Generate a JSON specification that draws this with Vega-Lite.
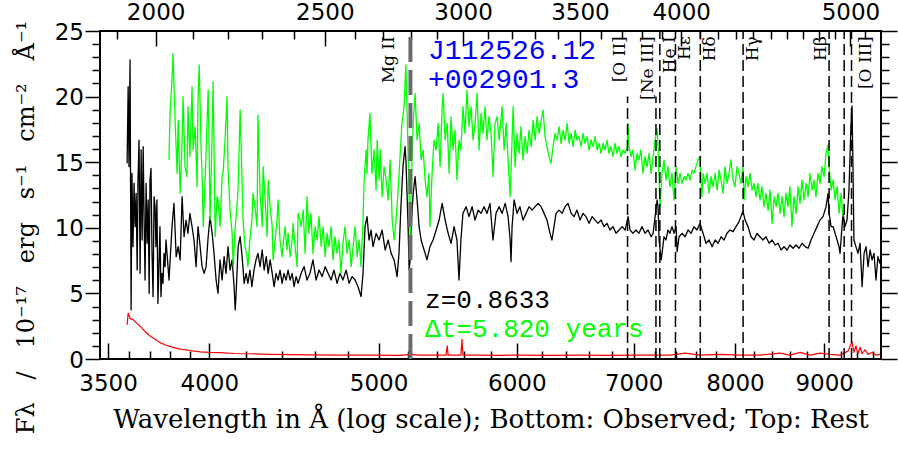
{
  "$schema": "https://vega.github.io/schema/vega-lite/v6.json",
  "width": 781,
  "height": 328,
  "autosize": {"type": "none"},
  "padding": {"left": 100, "top": 31, "right": 17, "bottom": 101},
  "background": "white",
  "config": {
    "view": {"stroke": "black", "strokeWidth": 2},
    "axis": {"grid": false, "domain": false, "tickColor": "black", "tickWidth": 1.5, "labelColor": "black", "labelFont": "DejaVu Sans", "labelFontSize": 23, "labelOverlap": false, "labelFlush": false, "labelBound": false, "titleColor": "black", "titleFontWeight": "normal", "titleFont": "DejaVu Serif", "titleFontSize": 26}
  },
  "datasets": {
    "black": [
      {"w":3589,"f":14.91},{"w":3594,"f":20.75},{"w":3598,"f":14.66},{"w":3603,"f":22.79},{"w":3608,"f":3.74},{"w":3612,"f":14.15},{"w":3617,"f":8.56},{"w":3622,"f":13.39},{"w":3627,"f":10.09},{"w":3632,"f":12.63},{"w":3637,"f":6.78},{"w":3641,"f":13.64},{"w":3646,"f":16.69},{"w":3651,"f":6.53},{"w":3656,"f":15.93},{"w":3661,"f":9.07},{"w":3666,"f":16.18},{"w":3670,"f":11.1},{"w":3675,"f":6.02},{"w":3680,"f":13.39},{"w":3685,"f":8.82},{"w":3690,"f":12.12},{"w":3695,"f":5.01},{"w":3699,"f":13.64},{"w":3704,"f":14.53},{"w":3709,"f":8.05},{"w":3714,"f":4.75},{"w":3719,"f":12.37},{"w":3724,"f":11.61},{"w":3728,"f":8.56},{"w":3733,"f":12.12},{"w":3738,"f":4.24},{"w":3743,"f":7.04},{"w":3748,"f":10.09},{"w":3753,"f":4.75},{"w":3758,"f":6.53},{"w":3763,"f":5.77},{"w":3768,"f":8.05},{"w":3773,"f":7.04},{"w":3778,"f":9.07},
      {"w":3793,"f":6.02},{"w":3808,"f":10.09},{"w":3818,"f":11.86},{"w":3829,"f":7.8},{"w":3839,"f":8.56},{"w":3849,"f":7.55},{"w":3859,"f":12.37},{"w":3869,"f":9.32},{"w":3879,"f":10.59},{"w":3889,"f":9.58},{"w":3899,"f":11.1},{"w":3910,"f":10.09},{"w":3920,"f":9.07},{"w":3931,"f":7.04},{"w":3941,"f":10.09},{"w":3952,"f":8.56},{"w":3962,"f":7.04},{"w":3973,"f":6.53},{"w":3983,"f":7.04},{"w":3994,"f":9.32},{"w":4004,"f":10.85},{"w":4015,"f":9.58},{"w":4025,"f":8.05},{"w":4036,"f":6.02},{"w":4046,"f":5.01},{"w":4057,"f":7.55},{"w":4068,"f":6.02},{"w":4079,"f":7.8},{"w":4089,"f":6.53},{"w":4100,"f":8.56},{"w":4111,"f":6.78},{"w":4122,"f":7.55},{"w":4133,"f":5.51},{"w":4139,"f":3.74},{"w":4144,"f":5.01},{"w":4155,"f":8.56},{"w":4166,"f":9.32},{"w":4177,"f":7.8},{"w":4188,"f":5.77},{"w":4199,"f":6.53},{"w":4209,"f":5.77},{"w":4220,"f":6.78},{"w":4231,"f":5.51},{"w":4243,"f":6.78},{"w":4254,"f":7.55},{"w":4265,"f":8.05},{"w":4277,"f":7.04},{"w":4289,"f":8.31},{"w":4300,"f":6.78},{"w":4312,"f":7.8},{"w":4323,"f":6.53},{"w":4334,"f":7.55},{"w":4346,"f":6.53},{"w":4357,"f":5.51},{"w":4368,"f":6.53},{"w":4380,"f":6.02},{"w":4391,"f":6.78},{"w":4403,"f":5.77},{"w":4414,"f":6.53},{"w":4426,"f":6.02},{"w":4438,"f":6.78},{"w":4450,"f":6.02},{"w":4462,"f":6.53},{"w":4473,"f":5.51},{"w":4485,"f":6.28},{"w":4497,"f":5.77},
      {"w":4515,"f":6.53},{"w":4533,"f":7.04},{"w":4550,"f":6.02},{"w":4568,"f":6.53},{"w":4586,"f":7.55},{"w":4605,"f":6.02},{"w":4623,"f":6.78},{"w":4642,"f":6.28},{"w":4660,"f":7.04},{"w":4678,"f":6.53},{"w":4697,"f":6.02},{"w":4715,"f":6.78},{"w":4734,"f":5.77},{"w":4752,"f":6.53},{"w":4771,"f":6.02},{"w":4791,"f":6.78},{"w":4810,"f":5.77},{"w":4829,"f":6.28},{"w":4848,"f":6.02},{"w":4867,"f":5.51},{"w":4886,"f":4.75},{"w":4899,"f":6.53},{"w":4912,"f":10.09},{"w":4925,"f":10.85},{"w":4938,"f":9.07},{"w":4951,"f":9.83},{"w":4964,"f":8.56},{"w":4984,"f":9.58},{"w":5004,"f":9.07},{"w":5024,"f":9.83},{"w":5044,"f":8.31},{"w":5064,"f":9.07},{"w":5084,"f":8.05},{"w":5104,"f":7.55},{"w":5124,"f":6.28},{"w":5137,"f":8.05},{"w":5150,"f":11.61},{"w":5164,"f":14.66},{"w":5178,"f":16.2},{"w":5184,"f":15.17},{"w":5191,"f":12.88},{"w":5199,"f":10.09},{"w":5206,"f":6.78},{"w":5213,"f":7.55},{"w":5220,"f":10.09},{"w":5234,"f":12.63},{"w":5247,"f":13.9},{"w":5261,"f":12.12},{"w":5275,"f":10.09},{"w":5289,"f":9.07},{"w":5303,"f":8.56},{"w":5317,"f":8.05},{"w":5330,"f":7.55},{"w":5351,"f":8.56},{"w":5373,"f":9.07},{"w":5395,"f":9.83},{"w":5416,"f":10.59},{"w":5438,"f":11.86},{"w":5459,"f":10.59},{"w":5481,"f":9.58},{"w":5502,"f":8.82},{"w":5524,"f":10.09},{"w":5545,"f":9.07},{"w":5560,"f":6.02},{"w":5574,"f":9.07},{"w":5589,"f":11.1},{"w":5612,"f":11.61},{"w":5634,"f":10.85},{"w":5657,"f":11.61},{"w":5679,"f":10.59},{"w":5702,"f":11.35},{"w":5724,"f":11.1},{"w":5747,"f":11.61},{"w":5769,"f":11.1},{"w":5792,"f":11.86},{"w":5815,"f":9.07},{"w":5838,"f":11.1},{"w":5862,"f":11.61},
      {"w":5885,"f":11.1},{"w":5909,"f":11.86},{"w":5932,"f":10.85},{"w":5948,"f":9.07},{"w":5955,"f":7.42},{"w":5963,"f":10.09},{"w":5979,"f":12.12},{"w":6002,"f":11.1},{"w":6025,"f":11.61},{"w":6050,"f":10.59},{"w":6074,"f":11.1},{"w":6098,"f":11.61},{"w":6123,"f":11.35},{"w":6147,"f":11.61},{"w":6171,"f":11.86},{"w":6196,"f":11.61},{"w":6220,"f":11.1},{"w":6244,"f":10.59},{"w":6269,"f":9.58},{"w":6285,"f":9.07},{"w":6302,"f":10.09},{"w":6319,"f":11.1},{"w":6344,"f":11.35},{"w":6370,"f":11.1},{"w":6395,"f":11.61},{"w":6420,"f":11.86},{"w":6446,"f":11.1},{"w":6471,"f":10.85},{"w":6496,"f":11.35},{"w":6522,"f":10.59},{"w":6548,"f":11.1},{"w":6574,"f":10.85},{"w":6600,"f":10.34},{"w":6627,"f":10.85},{"w":6653,"f":10.59},{"w":6679,"f":10.34},{"w":6706,"f":10.59},{"w":6732,"f":10.09},{"w":6758,"f":10.34},{"w":6785,"f":9.83},{"w":6812,"f":10.09},{"w":6839,"f":9.58},{"w":6867,"f":9.83},{"w":6894,"f":10.09},{"w":6922,"f":9.83},{"w":6949,"f":10.85},{"w":6967,"f":9.83},{"w":6994,"f":9.58},{"w":7022,"f":9.83},{"w":7049,"f":9.58},{"w":7078,"f":10.09},{"w":7106,"f":9.58},{"w":7134,"f":9.83},{"w":7163,"f":9.32},{"w":7182,"f":9.58},{"w":7201,"f":10.85},{"w":7220,"f":12.12},{"w":7229,"f":11.61},{"w":7239,"f":9.07},{"w":7258,"f":7.55},{"w":7267,"f":8.05},{"w":7286,"f":9.32},{"w":7305,"f":9.07},{"w":7324,"f":9.83},{"w":7343,"f":9.58},{"w":7363,"f":10.09},{"w":7383,"f":9.58},{"w":7403,"f":10.09},{"w":7413,"f":8.18},{"w":7432,"f":9.32},{"w":7462,"f":9.58},{"w":7492,"f":9.32},{"w":7521,"f":9.83},{"w":7551,"f":9.58},{"w":7580,"f":10.09},{"w":7610,"f":9.83},{"w":7640,"f":10.34},
      {"w":7671,"f":9.58},{"w":7701,"f":8.82},{"w":7732,"f":9.07},{"w":7763,"f":8.56},{"w":7794,"f":9.07},{"w":7825,"f":8.82},{"w":7856,"f":9.32},{"w":7886,"f":9.07},{"w":7917,"f":9.58},{"w":7948,"f":9.83},{"w":7980,"f":9.71},{"w":8012,"f":10.09},{"w":8044,"f":10.47},{"w":8076,"f":11.1},{"w":8087,"f":11.23},{"w":8108,"f":10.59},{"w":8140,"f":10.09},{"w":8172,"f":9.32},{"w":8205,"f":9.07},{"w":8237,"f":9.58},{"w":8269,"f":9.32},{"w":8302,"f":9.07},{"w":8335,"f":9.32},{"w":8369,"f":8.82},{"w":8402,"f":9.07},{"w":8436,"f":8.69},{"w":8469,"f":8.82},{"w":8502,"f":8.31},{"w":8536,"f":8.56},{"w":8569,"f":8.31},{"w":8602,"f":8.69},{"w":8637,"f":8.44},{"w":8672,"f":8.69},{"w":8706,"f":8.44},{"w":8741,"f":8.82},{"w":8776,"f":8.56},{"w":8811,"f":8.44},{"w":8845,"f":9.07},{"w":8880,"f":9.58},{"w":8915,"f":10.09},{"w":8950,"f":10.59},{"w":8986,"f":10.85},{"w":9022,"f":11.61},{"w":9046,"f":12.63},{"w":9058,"f":11.1},{"w":9082,"f":10.09},{"w":9106,"f":10.09},{"w":9130,"f":9.58},{"w":9154,"f":9.07},{"w":9178,"f":8.56},{"w":9190,"f":8.05},{"w":9214,"f":10.09},{"w":9226,"f":11.1},{"w":9250,"f":10.09},{"w":9275,"f":10.59},{"w":9299,"f":12.88},{"w":9323,"f":17.71},{"w":9336,"f":19.3},{"w":9348,"f":14.66},{"w":9360,"f":9.07},{"w":9385,"f":8.56},{"w":9410,"f":8.05},{"w":9436,"f":8.82},{"w":9461,"f":5.51},{"w":9486,"f":8.05},{"w":9511,"f":8.56},{"w":9536,"f":7.04},{"w":9561,"f":8.31},{"w":9586,"f":7.55},{"w":9611,"f":8.05},{"w":9636,"f":6.02},{"w":9661,"f":7.8},{"w":9686,"f":7.29},{"w":9699,"f":7.8}
    ],
    "green": [
      {"w":3793,"f":15.17},{"w":3798,"f":18.72},{"w":3808,"f":21.26},{"w":3813,"f":23.29},{"w":3824,"f":17.96},{"w":3834,"f":14.15},{"w":3839,"f":18.21},{"w":3849,"f":12.63},{"w":3859,"f":16.69},{"w":3864,"f":19.99},{"w":3874,"f":14.66},{"w":3884,"f":13.9},{"w":3889,"f":19.23},{"w":3899,"f":15.42},{"w":3910,"f":20.75},{"w":3915,"f":15.93},{"w":3926,"f":17.71},{"w":3936,"f":13.13},{"w":3941,"f":19.74},{"w":3947,"f":22.41},{"w":3957,"f":15.93},{"w":3962,"f":14.15},{"w":3968,"f":10.09},{"w":3978,"f":13.64},{"w":3989,"f":18.47},{"w":3994,"f":20.5},{"w":3999,"f":15.93},{"w":4004,"f":10.59},{"w":4015,"f":17.2},{"w":4020,"f":21.13},{"w":4025,"f":15.93},{"w":4031,"f":9.32},{"w":4041,"f":12.37},{"w":4046,"f":12.12},{"w":4057,"f":10.09},{"w":4068,"f":13.9},{"w":4073,"f":14.15},{"w":4084,"f":16.69},{"w":4095,"f":19.99},{"w":4100,"f":14.4},{"w":4111,"f":11.36},{"w":4122,"f":9.58},{"w":4128,"f":7.04},{"w":4139,"f":10.09},{"w":4150,"f":11.86},{"w":4155,"f":13.13},{"w":4166,"f":18.98},{"w":4177,"f":13.39},{"w":4182,"f":10.59},{"w":4193,"f":8.56},{"w":4204,"f":7.8},{"w":4209,"f":7.04},{"w":4220,"f":9.07},{"w":4231,"f":10.59},{"w":4237,"f":12.63},{"w":4248,"f":11.61},{"w":4260,"f":10.09},{"w":4265,"f":18.59},{"w":4277,"f":12.63},{"w":4289,"f":10.09},{"w":4294,"f":14.66},{"w":4306,"f":12.12},{"w":4317,"f":9.32},{"w":4323,"f":13.64},{"w":4334,"f":11.61},{"w":4346,"f":10.09},{"w":4351,"f":7.55},{"w":4363,"f":9.07},{"w":4374,"f":10.59},{"w":4380,"f":12.12},{"w":4391,"f":9.07},{"w":4403,"f":7.8},{"w":4408,"f":8.56},{"w":4420,"f":10.09},{"w":4432,"f":8.31},{"w":4438,"f":9.58},{"w":4450,"f":7.8},{"w":4462,"f":9.07},{"w":4467,"f":10.34},{"w":4479,"f":8.56},{"w":4491,"f":7.04},{"w":4497,"f":11.1},{"w":4509,"f":10.59},
      {"w":4515,"f":10.09},{"w":4527,"f":11.35},{"w":4539,"f":8.05},{"w":4550,"f":12.37},{"w":4562,"f":9.58},{"w":4574,"f":11.1},{"w":4586,"f":8.05},{"w":4599,"f":10.09},{"w":4611,"f":9.07},{"w":4623,"f":10.85},{"w":4636,"f":8.56},{"w":4648,"f":10.09},{"w":4660,"f":7.8},{"w":4672,"f":9.58},{"w":4684,"f":8.56},{"w":4697,"f":10.09},{"w":4709,"f":7.55},{"w":4721,"f":9.32},{"w":4734,"f":8.05},{"w":4746,"f":9.07},{"w":4758,"f":6.53},{"w":4771,"f":8.82},{"w":4784,"f":10.09},{"w":4797,"f":8.05},{"w":4810,"f":9.07},{"w":4823,"f":7.04},{"w":4835,"f":8.56},{"w":4848,"f":10.09},{"w":4861,"f":7.8},{"w":4874,"f":9.07},{"w":4886,"f":7.04},{"w":4899,"f":10.59},{"w":4906,"f":13.64},{"w":4919,"f":15.93},{"w":4925,"f":14.15},{"w":4931,"f":16.69},{"w":4944,"f":18.72},{"w":4957,"f":14.15},{"w":4971,"f":15.93},{"w":4984,"f":12.88},{"w":4991,"f":16.69},{"w":5004,"f":13.64},{"w":5011,"f":15.93},{"w":5024,"f":12.37},{"w":5037,"f":14.66},{"w":5051,"f":13.64},{"w":5064,"f":12.12},{"w":5077,"f":15.17},{"w":5091,"f":10.59},{"w":5104,"f":9.07},{"w":5117,"f":10.59},{"w":5131,"f":12.88},{"w":5144,"f":15.42},{"w":5157,"f":17.96},{"w":5171,"f":19.23},{"w":5184,"f":22.41},{"w":5191,"f":19.23},{"w":5199,"f":15.67},{"w":5213,"f":9.07},{"w":5220,"f":12.88},{"w":5234,"f":17.96},{"w":5247,"f":20.25},{"w":5261,"f":16.69},{"w":5275,"f":17.96},{"w":5289,"f":15.17},{"w":5303,"f":15.93},{"w":5317,"f":13.64},{"w":5330,"f":12.37},{"w":5344,"f":14.15},{"w":5351,"f":10.09},{"w":5366,"f":14.15},{"w":5380,"f":16.69},{"w":5395,"f":15.93},{"w":5409,"f":17.96},{"w":5423,"f":14.66},{"w":5438,"f":19.23},{"w":5445,"f":20.25},{"w":5459,"f":16.69},{"w":5474,"f":17.96},{"w":5488,"f":14.15},{"w":5502,"f":18.47},{"w":5517,"f":15.93},{"w":5531,"f":17.45},{"w":5545,"f":13.64},{"w":5560,"f":16.69},{"w":5574,"f":15.93},{"w":5589,"f":19.23},{"w":5604,"f":17.2},{"w":5619,"f":20.5},{"w":5634,"f":17.71},{"w":5649,"f":19.23},{"w":5664,"f":16.69},{"w":5679,"f":17.96},{"w":5694,"f":20.25},{"w":5709,"f":15.93},{"w":5724,"f":18.72},{"w":5739,"f":17.2},{"w":5754,"f":19.23},{"w":5769,"f":16.69},{"w":5784,"f":18.47},{"w":5800,"f":17.2},{"w":5815,"f":13.9},{"w":5830,"f":17.96},{"w":5846,"f":18.47},{"w":5862,"f":16.69},
      {"w":5885,"f":19.23},{"w":5901,"f":15.93},{"w":5917,"f":17.96},{"w":5932,"f":15.17},{"w":5948,"f":12.37},{"w":5963,"f":16.69},{"w":5971,"f":19.23},{"w":5987,"f":14.66},{"w":6002,"f":17.2},{"w":6018,"f":15.67},{"w":6034,"f":17.71},{"w":6050,"f":15.17},{"w":6066,"f":16.95},{"w":6082,"f":15.67},{"w":6098,"f":17.45},{"w":6115,"f":16.18},{"w":6131,"f":18.21},{"w":6147,"f":16.69},{"w":6163,"f":18.47},{"w":6180,"f":17.2},{"w":6196,"f":18.21},{"w":6212,"f":18.98},{"w":6228,"f":16.95},{"w":6244,"f":16.18},{"w":6261,"f":15.42},{"w":6277,"f":14.91},{"w":6294,"f":16.18},{"w":6311,"f":17.2},{"w":6327,"f":16.69},{"w":6344,"f":17.71},{"w":6361,"f":16.44},{"w":6378,"f":17.45},{"w":6395,"f":16.69},{"w":6412,"f":17.96},{"w":6429,"f":16.44},{"w":6446,"f":17.2},{"w":6463,"f":16.18},{"w":6480,"f":17.45},{"w":6496,"f":16.69},{"w":6513,"f":16.95},{"w":6531,"f":16.18},{"w":6548,"f":17.2},{"w":6565,"f":16.44},{"w":6583,"f":16.95},{"w":6600,"f":15.93},{"w":6618,"f":16.69},{"w":6636,"f":16.18},{"w":6653,"f":16.95},{"w":6671,"f":15.93},{"w":6688,"f":16.44},{"w":6706,"f":15.67},{"w":6723,"f":16.44},{"w":6741,"f":15.93},{"w":6758,"f":16.69},{"w":6776,"f":15.67},{"w":6794,"f":16.18},{"w":6812,"f":15.42},{"w":6830,"f":16.44},{"w":6849,"f":15.67},{"w":6867,"f":16.18},{"w":6885,"f":15.42},{"w":6903,"f":15.93},{"w":6922,"f":15.67},{"w":6940,"f":16.18},{"w":6949,"f":17.96},{"w":6958,"f":16.18},{"w":6976,"f":15.42},{"w":6994,"f":15.93},{"w":7013,"f":14.4},{"w":7031,"f":15.67},{"w":7049,"f":15.17},{"w":7068,"f":15.93},{"w":7087,"f":14.15},{"w":7106,"f":15.42},{"w":7125,"f":14.66},{"w":7144,"f":15.67},{"w":7163,"f":14.15},{"w":7182,"f":15.42},{"w":7201,"f":16.69},{"w":7220,"f":17.58},{"w":7229,"f":16.18},{"w":7239,"f":13.64},{"w":7248,"f":11.61},{"w":7267,"f":14.15},{"w":7286,"f":15.17},{"w":7305,"f":13.64},{"w":7324,"f":14.66},{"w":7343,"f":13.13},{"w":7363,"f":14.15},{"w":7383,"f":12.12},{"w":7403,"f":14.66},{"w":7422,"f":13.39},{"w":7442,"f":14.15},{"w":7462,"f":13.39},{"w":7482,"f":13.9},{"w":7502,"f":13.64},{"w":7521,"f":14.15},{"w":7541,"f":13.64},{"w":7561,"f":14.4},{"w":7580,"f":14.15},{"w":7600,"f":14.66},{"w":7620,"f":15.17},{"w":7640,"f":15.42},
      {"w":7660,"f":12.37},{"w":7671,"f":14.15},{"w":7691,"f":13.39},{"w":7711,"f":14.15},{"w":7732,"f":12.63},{"w":7753,"f":13.9},{"w":7773,"f":13.13},{"w":7794,"f":14.15},{"w":7815,"f":12.88},{"w":7835,"f":14.4},{"w":7856,"f":13.64},{"w":7876,"f":12.63},{"w":7897,"f":14.66},{"w":7917,"f":13.39},{"w":7938,"f":14.15},{"w":7958,"f":15.17},{"w":7980,"f":13.64},{"w":8001,"f":13.13},{"w":8023,"f":14.66},{"w":8044,"f":14.15},{"w":8065,"f":13.39},{"w":8087,"f":14.66},{"w":8097,"f":12.12},{"w":8119,"f":13.9},{"w":8140,"f":13.13},{"w":8162,"f":14.15},{"w":8183,"f":12.88},{"w":8205,"f":13.39},{"w":8226,"f":12.37},{"w":8247,"f":13.39},{"w":8269,"f":12.12},{"w":8291,"f":13.13},{"w":8313,"f":11.61},{"w":8335,"f":12.63},{"w":8358,"f":11.35},{"w":8380,"f":12.88},{"w":8402,"f":10.34},{"w":8425,"f":12.37},{"w":8447,"f":11.61},{"w":8469,"f":12.63},{"w":8491,"f":11.1},{"w":8514,"f":12.37},{"w":8536,"f":10.85},{"w":8558,"f":12.63},{"w":8580,"f":11.61},{"w":8602,"f":13.13},{"w":8625,"f":10.09},{"w":8648,"f":12.37},{"w":8672,"f":11.1},{"w":8695,"f":13.13},{"w":8718,"f":11.86},{"w":8741,"f":13.64},{"w":8764,"f":12.12},{"w":8788,"f":13.39},{"w":8811,"f":12.37},{"w":8834,"f":14.15},{"w":8857,"f":12.88},{"w":8880,"f":13.64},{"w":8903,"f":12.37},{"w":8926,"f":14.15},{"w":8950,"f":13.39},{"w":8974,"f":14.66},{"w":8998,"f":13.9},{"w":9022,"f":15.67},{"w":9046,"f":16.31},{"w":9058,"f":14.66},{"w":9082,"f":12.88},{"w":9106,"f":13.64},{"w":9130,"f":12.12},{"w":9154,"f":13.13},{"w":9178,"f":11.1},{"w":9202,"f":12.63},{"w":9226,"f":10.85}
    ],
    "red": [
      {"w":3589,"f":2.6},{"w":3594,"f":3.5},{"w":3603,"f":3.1},{"w":3617,"f":3.0},{"w":3637,"f":2.7},{"w":3651,"f":2.5},{"w":3675,"f":2.1},{"w":3699,"f":1.75},{"w":3724,"f":1.5},{"w":3748,"f":1.25},{"w":3778,"f":1.05},{"w":3808,"f":0.9},{"w":3849,"f":0.75},{"w":3899,"f":0.65},{"w":3952,"f":0.55},{"w":4004,"f":0.5},{"w":4057,"f":0.48},{"w":4139,"f":0.42},{"w":4220,"f":0.4},{"w":4334,"f":0.36},{"w":4450,"f":0.33},{"w":4568,"f":0.32},{"w":4752,"f":0.3},{"w":4944,"f":0.3},{"w":5144,"f":0.28},{"w":5213,"f":0.35},{"w":5282,"f":0.3},{"w":5423,"f":0.3},{"w":5466,"f":0.3},{"w":5474,"f":1.0},{"w":5481,"f":0.3},{"w":5574,"f":0.3},{"w":5582,"f":1.5},{"w":5589,"f":0.3},{"w":5717,"f":0.3},{"w":5870,"f":0.28},{"w":6025,"f":0.3},{"w":6269,"f":0.28},{"w":6522,"f":0.3},{"w":6785,"f":0.28},{"w":7059,"f":0.3},{"w":7343,"f":0.3},{"w":7492,"f":0.45},{"w":7640,"f":0.3},{"w":7846,"f":0.35},{"w":8065,"f":0.3},{"w":8269,"f":0.3},{"w":8491,"f":0.45},{"w":8602,"f":0.3},{"w":8718,"f":0.5},{"w":8834,"f":0.3},{"w":8950,"f":0.45},{"w":9070,"f":0.35},{"w":9190,"f":0.3},{"w":9287,"f":0.6},{"w":9336,"f":1.3},{"w":9360,"f":0.5},{"w":9385,"f":1.0},{"w":9410,"f":0.4},{"w":9436,"f":0.9},{"w":9461,"f":0.4},{"w":9498,"f":0.7},{"w":9536,"f":0.35},{"w":9586,"f":0.5},{"w":9636,"f":0.3},{"w":9686,"f":0.35}
    ],
    "lines": [
      {"name":"Mg II","label":"Mg II","rest":2798,"obs":5215},
      {"name":"[O II]","label":"[O II]","rest":3727,"obs":6944},
      {"name":"[Ne III]","label":"[Ne III]","rest":3869,"obs":7209},
      {"name":"He I","label":"He I","rest":3889,"obs":7246},
      {"name":"Hε","label":"Hε","rest":3970,"obs":7397},
      {"name":"Hδ","label":"Hδ","rest":4102,"obs":7643},
      {"name":"Hγ","label":"Hγ","rest":4340,"obs":8087},
      {"name":"Hβ","label":"Hβ","rest":4861,"obs":9058},
      {"name":"[O III] 4959","label":"","rest":4959,"obs":9240},
      {"name":"[O III] 5007","label":"[O III]","rest":5007,"obs":9330}
    ]
  },
  "layer": [
    {
      "layer": [
        {
          "data": {"name": "black"},
          "mark": {"type": "line", "color": "black", "strokeWidth": 1.3, "strokeJoin": "round"},
          "encoding": {
            "x": {"field": "w", "type": "quantitative",
              "scale": {"type": "log", "domain": [3463, 9700], "nice": false, "zero": false},
              "axis": {"orient": "bottom",
                "values": [3500,3600,3700,3800,3900,4000,4200,4400,4600,4800,5000,5200,5400,5600,5800,6000,6200,6400,6600,6800,7000,7200,7400,7600,7800,8000,8200,8400,8600,8800,9000,9200,9400,9600],
                "format": "d",
                "labelExpr": "indexof([3500,4000,5000,6000,7000,8000,9000], datum.value) >= 0 ? datum.label : ''",
                "tickSize": {"condition": {"test": "indexof([3500,4000,5000,6000,7000,8000,9000], datum.value) >= 0", "value": -16}, "value": -8},
                "labelPadding": 47, "labelBaseline": "alphabetic", "labelOverlap": false,
                "title": "Wavelength in Å (log scale); Bottom: Observed; Top: Rest",
                "titleX": 390.5, "titleY": 68, "titleBaseline": "alphabetic", "titleAlign": "center"}},
            "y": {"field": "f", "type": "quantitative",
              "scale": {"domain": [0, 25], "nice": false, "zero": true},
              "axis": {"orient": "left",
                "values": [0,5,10,15,20,25],
                "tickSize": 15,
                "labelPadding": 1.5, "labelBaseline": "middle", "labelOffset": 1, "labelOverlap": false,
                "title": "Fλ \u00a0\u00a0/ \u00a0\u00a010⁻¹⁷ \u00a0\u00a0erg \u00a0\u00a0s⁻¹ \u00a0\u00a0cm⁻² \u00a0\u00a0Å⁻¹",
                "titleFontSize": 24,
                "titleX": -67, "titleY": 196, "titleBaseline": "alphabetic", "titleAlign": "center", "titleAngle": 270}}
          }
        },
        {
          "data": {"name": "green"},
          "mark": {"type": "line", "color": "#00ff00", "strokeWidth": 1.3, "strokeJoin": "round"},
          "encoding": {"x": {"field": "w", "type": "quantitative"}, "y": {"field": "f", "type": "quantitative"}}
        },
        {
          "data": {"name": "red"},
          "mark": {"type": "line", "color": "#ff0000", "strokeWidth": 1.2, "strokeJoin": "round"},
          "encoding": {"x": {"field": "w", "type": "quantitative"}, "y": {"field": "f", "type": "quantitative"}}
        },
        {
          "data": {"name": "lines"},
          "transform": [{"filter": {"not": {"field": "name", "oneOf": ["Mg II", "[O II]", "[Ne III]"]}}}],
          "mark": {"type": "rule", "color": "black", "strokeWidth": 1.5, "strokeDash": [11, 5]},
          "encoding": {"x": {"field": "obs", "type": "quantitative"}, "y": {"datum": 0, "type": "quantitative"}, "y2": {"datum": 25}}
        },
        {
          "data": {"name": "lines"},
          "transform": [{"filter": {"field": "name", "oneOf": ["[O II]", "[Ne III]"]}}],
          "mark": {"type": "rule", "color": "black", "strokeWidth": 1.5, "strokeDash": [11, 5]},
          "encoding": {"x": {"field": "obs", "type": "quantitative"}, "y": {"datum": 0, "type": "quantitative"}, "y2": {"datum": 20}}
        },
        {
          "data": {"name": "lines"},
          "transform": [{"filter": {"field": "name", "equal": "Mg II"}}],
          "mark": {"type": "rule", "color": "#6b6b6b", "strokeWidth": 4, "strokeDash": [25, 8]},
          "encoding": {"x": {"field": "obs", "type": "quantitative"}, "y": {"datum": 0, "type": "quantitative"}, "y2": {"datum": 25}}
        },
        {
          "data": {"name": "lines"},
          "transform": [{"filter": {"field": "name", "equal": "Mg II"}}],
          "mark": {"type": "text", "angle": 270, "align": "right", "baseline": "middle", "font": "DejaVu Serif", "fontSize": 17, "color": "black", "dy": -21},
          "encoding": {"x": {"field": "obs", "type": "quantitative"}, "y": {"datum": 24.6, "type": "quantitative"}, "text": {"field": "label"}}
        },
        {
          "data": {"name": "lines"},
          "transform": [{"filter": {"field": "name", "oneOf": ["[O II]", "[Ne III]", "Hβ"]}}],
          "mark": {"type": "text", "angle": 270, "align": "right", "baseline": "middle", "font": "DejaVu Serif", "fontSize": 17, "color": "black", "dy": -8},
          "encoding": {"x": {"field": "obs", "type": "quantitative"}, "y": {"datum": 24.6, "type": "quantitative"}, "text": {"field": "label"}}
        },
        {
          "data": {"name": "lines"},
          "transform": [{"filter": {"field": "name", "oneOf": ["He I", "Hε", "Hδ", "Hγ"]}}],
          "mark": {"type": "text", "angle": 270, "align": "right", "baseline": "middle", "font": "DejaVu Serif", "fontSize": 17, "color": "black", "dy": 10},
          "encoding": {"x": {"field": "obs", "type": "quantitative"}, "y": {"datum": 24.6, "type": "quantitative"}, "text": {"field": "label"}}
        },
        {
          "data": {"name": "lines"},
          "transform": [{"filter": {"field": "name", "equal": "[O III] 5007"}}],
          "mark": {"type": "text", "angle": 270, "align": "right", "baseline": "middle", "font": "DejaVu Serif", "fontSize": 17, "color": "black", "dy": 14},
          "encoding": {"x": {"field": "obs", "type": "quantitative"}, "y": {"datum": 24.6, "type": "quantitative"}, "text": {"field": "label"}}
        },
        {
          "data": {"values": [{}]},
          "mark": {"type": "text", "text": "J112526.12", "font": "Liberation Mono", "fontSize": 28, "color": "#0000ff", "align": "left", "baseline": "alphabetic"},
          "encoding": {"x": {"datum": 5337, "type": "quantitative"}, "y": {"datum": 22.87, "type": "quantitative"}}
        },
        {
          "data": {"values": [{}]},
          "mark": {"type": "text", "text": "+002901.3", "font": "Liberation Mono", "fontSize": 28, "color": "#0000ff", "align": "left", "baseline": "alphabetic"},
          "encoding": {"x": {"datum": 5337, "type": "quantitative"}, "y": {"datum": 20.65, "type": "quantitative"}}
        },
        {
          "data": {"values": [{}]},
          "mark": {"type": "text", "text": "z=0.8633", "font": "Liberation Mono", "fontSize": 26, "color": "black", "align": "left", "baseline": "alphabetic"},
          "encoding": {"x": {"datum": 5317, "type": "quantitative"}, "y": {"datum": 3.89, "type": "quantitative"}}
        },
        {
          "data": {"values": [{}]},
          "mark": {"type": "text", "text": "Δt=5.820 years", "font": "Liberation Mono", "fontSize": 26, "color": "#00ff00", "align": "left", "baseline": "alphabetic"},
          "encoding": {"x": {"datum": 5317, "type": "quantitative"}, "y": {"datum": 1.68, "type": "quantitative"}}
        }
      ]
    },
    {
      "data": {"name": "lines"},
      "mark": {"type": "point", "opacity": 0},
      "encoding": {
        "x": {"field": "rest", "type": "quantitative",
          "scale": {"type": "log", "domain": [1858.5, 5205.8], "nice": false, "zero": false},
          "axis": {"orient": "top",
            "values": [1900,2000,2100,2200,2300,2400,2500,2600,2700,2800,2900,3000,3100,3200,3300,3400,3500,3600,3700,3800,3900,4000,4100,4200,4300,4400,4500,4600,4700,4800,4900,5000,5100],
            "format": "d",
            "labelExpr": "indexof([2000,2500,3000,3500,4000,5000], datum.value) >= 0 ? datum.label : ''",
            "tickSize": {"condition": {"test": "indexof([2000,2500,3000,3500,4000,5000], datum.value) >= 0", "value": -15}, "value": -8},
            "labelPadding": 26.5, "labelBaseline": "alphabetic", "labelOverlap": false, "title": null}},
        "y": {"datum": 0, "type": "quantitative",
          "scale": {"domain": [0, 25], "nice": false, "zero": true},
          "axis": {"orient": "right",
            "values": [0,1,2,3,4,5,6,7,8,9,10,11,12,13,14,15,16,17,18,19,20,21,22,23,24,25],
            "labels": false,
            "tickSize": {"condition": {"test": "datum.value % 5 === 0", "value": 16}, "value": 8},
            "title": null}}
      }
    },
    {
      "data": {"values": [{}]},
      "mark": {"type": "point", "opacity": 0},
      "encoding": {
        "y": {"datum": 0, "type": "quantitative",
          "scale": {"domain": [0, 25], "nice": false, "zero": true},
          "axis": {"orient": "left",
            "values": [1,2,3,4,6,7,8,9,11,12,13,14,16,17,18,19,21,22,23,24],
            "labels": false, "tickSize": 8, "title": null}}
      }
    }
  ],
  "resolve": {"scale": {"x": "independent", "y": "independent"}, "axis": {"x": "independent", "y": "independent"}}
}
